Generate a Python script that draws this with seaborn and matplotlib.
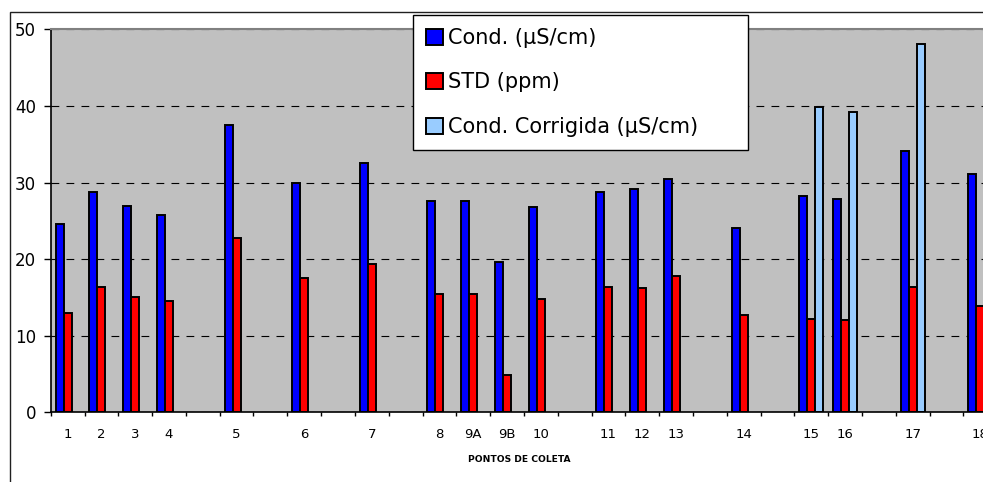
import numpy as np
import pandas as pd
import matplotlib
matplotlib.use("Agg")
import matplotlib.pyplot as plt
from matplotlib.patches import Rectangle
import seaborn as sns

# pontos de coleta, "" = espaco vazio no eixo
pontos = ["1", "2", "3", "4", "", "5", "", "6", "", "7", "", "8", "9A", "9B", "10",
          "", "11", "12", "13", "", "14", "", "15", "16", "", "17", "", "18"]

cond = [24.6, 28.8, 26.9, 25.7, None, 37.5, None, 29.9, None, 32.6, None, 27.6, 27.6, 19.6, 26.8,
        None, 28.8, 29.1, 30.5, None, 24.1, None, 28.2, 27.8, None, 34.1, None, 31.1]
std = [13.0, 16.3, 15.0, 14.5, None, 22.8, None, 17.5, None, 19.3, None, 15.5, 15.4, 4.9, 14.8,
       None, 16.3, 16.2, 17.8, None, 12.7, None, 12.2, 12.1, None, 16.3, None, 13.9]
cond_corr = [None] * 22 + [39.8, 39.2, None, 48.1, None, 44.0]

series = ["Cond. (µS/cm)", "STD (ppm)", "Cond. Corrigida (µS/cm)"]
colors = ["#0000FF", "#FF0000", "#99CCFF"]
yticks = [0, 10, 20, 30, 40, 50]


def build_frame():
    """Long table for seaborn, blank slots get their own keys."""
    keys = [p if p else f"_{i}" for i, p in enumerate(pontos)]
    rows = []
    for name, vals in zip(series, [cond, std, cond_corr]):
        for k, v in zip(keys, vals):
            if v is not None:
                rows.append({"ponto": k, "serie": name, "valor": v})
    return pd.DataFrame(rows), keys


df, keys = build_frame()

W, H = 983, 482
fig = plt.figure(figsize=(W / 100, H / 100), dpi=100)
fig.patch.set_facecolor("white")

# outer chart border (cropped on the right and bottom)
fig.add_artist(Rectangle((10 / W, -0.05), 1.0, (H - 12) / H + 0.05, transform=fig.transFigure,
                         fill=False, edgecolor="#202020", linewidth=1))

ax = fig.add_axes([50.7 / W, (H - 412.3) / H, 946.4 / W, 383 / H])
ax.set_facecolor("#C0C0C0")

sns.barplot(data=df, x="ponto", y="valor", hue="serie", order=keys, hue_order=series,
            palette=colors, saturation=1, width=0.71, edgecolor="black", linewidth=1.4,
            errorbar=None, ax=ax)

ax.set_xlim(-0.5, len(pontos) - 0.5)
ax.set_ylim(0, 50)
ax.set_yticks(yticks)
ax.set_yticklabels([str(t) for t in yticks])
ax.yaxis.grid(True, color="black", linewidth=0.8, linestyle=(0, (7, 6.5)))
ax.set_axisbelow(True)

# ticks on the slot borders, labels in the middle
ax.set_xticks(np.arange(-0.5, len(pontos), 1))
ax.set_xticklabels([])
ax.set_xticks(np.arange(len(pontos)), minor=True)
ax.set_xticklabels(pontos, minor=True)
ax.tick_params(axis="x", which="major", length=3, width=1, direction="out", color="black")
ax.tick_params(axis="x", which="minor", length=0, pad=11, labelsize=9.5)
ax.tick_params(axis="y", length=4.7, width=1, pad=5.8, labelsize=12, color="black")
ax.set_xlabel("")
ax.set_ylabel("")

for side in ["left", "bottom"]:
    ax.spines[side].set_color("black")
    ax.spines[side].set_linewidth(1.2)
ax.spines["top"].set_color("#808080")
ax.spines["top"].set_linewidth(1.5)
ax.spines["right"].set_visible(False)

fig.text(519 / W, 1 - 459 / H, "PONTOS DE COLETA", ha="center", va="center",
         fontsize=6.6, fontweight="bold")

handles, labels = ax.get_legend_handles_labels()
leg = ax.legend(handles, labels, loc="upper left", mode="expand",
                bbox_to_anchor=(413 / W, 1 - 150 / H, 335 / W, 135 / H),
                bbox_transform=fig.transFigure, borderaxespad=0, fontsize=15,
                handlelength=0.82, handleheight=0.82, handletextpad=0.25,
                labelspacing=1.18, borderpad=0.62, fancybox=False, shadow=False,
                frameon=True, framealpha=1)
leg.get_frame().set_edgecolor("black")
leg.get_frame().set_linewidth(1)
leg.set_zorder(10)

fig.savefig("out.png", dpi=100)
